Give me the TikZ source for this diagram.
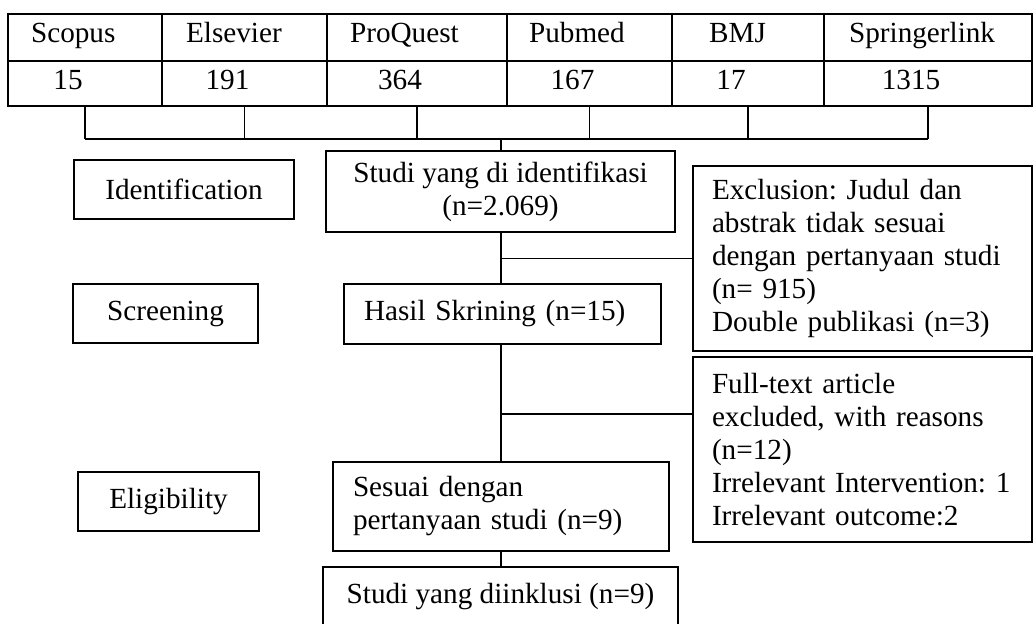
\documentclass[tikz,border=0pt]{standalone}
\usepackage{fontspec}
\setmainfont{Liberation Serif}
\usetikzlibrary{positioning}
\tikzset{cell/.style =
   {draw,
    line width=0.8pt,
    anchor=north west,
    outer sep=0pt,
    inner sep=0pt}}
\tikzset{stage/.style =
   {draw,
    line width=0.6pt,
    text centered,
    minimum height=29.5pt}}
\tikzset{flowbox/.style =
   {draw,
    line width=0.6pt,
    align=center}}
\tikzset{notebox/.style =
   {draw,
    line width=0.6pt,
    align=left,
    inner xsep=10pt}}
\tikzset{link/.style = {draw, line width=0.6pt}}

\begin{document}
\begin{tikzpicture}[x=0.5pt, y=-0.5pt,
    every node/.style={font=\frenchspacing\fontsize{14.6}{16.5}\selectfont}]

    \useasboundingbox (0,0) rectangle (1033,624);

    % database table
    \foreach \i/\xa/\w/\pad/\db/\num in
        {1/8/154/8/Scopus/15,
         2/162/165/8.5/Elsevier/191,
         3/327/180/8/ProQuest/364,
         4/507/165/7.5/Pubmed/167,
         5/672/152/15/BMJ/17,
         6/824/208/9/Springerlink/1315}
    {
        \node [cell, minimum width=\w*0.5pt,
               minimum height=23.5pt] (h-\i) at (\xa,14) {};
        \node [cell, minimum width=\w*0.5pt,
               minimum height=22.5pt] (n-\i) at (\xa,61) {};
        \node [anchor=base west] (db-\i)
            at ([xshift=\pad*1pt, yshift=9pt]h-\i.south west) {\db};
        \node [anchor=base] (num-\i)
            at ([xshift=-8.5pt, yshift=8pt]n-\i.south) {\num};
    }

    % stages
    \node [stage, minimum width=110pt] (ident) at (184,189.5) {Identification};
    \node [stage, minimum width=92.5pt] (screen) at (165.5,313.5) {Screening};
    \node [stage, minimum width=90.5pt] (elig) at (168.5,501.5) {Eligibility};

    % main flow
    \node [flowbox,
           minimum width=174.5pt,
           minimum height=40.5pt] (found) at (500.5,191.5)
          {Studi yang di identifikasi\\(n=2.069)};

    \node [notebox,
           text width=138.5pt,
           minimum height=30pt] (screened) at (502.5,314)
          {Hasil Skrining (n=15)};

    \node [notebox,
           text width=148pt,
           minimum height=44.5pt] (eligible) at (501,506.5)
          {Sesuai dengan\\pertanyaan studi (n=9)};

    \node [flowbox,
           minimum width=177.5pt,
           minimum height=30pt] (included) at (500.5,597)
          {Studi yang diinklusi (n=9)};

    % exclusions
    \node [notebox,
           inner xsep=9.5pt,
           text width=150.5pt,
           minimum height=92.5pt] (excl-title) at (862.5,258.5)
          {Exclusion: Judul dan\\abstrak tidak sesuai\\dengan pertanyaan studi\\(n= 915)\\Double publikasi (n=3)};

    \node [notebox,
           inner xsep=9.5pt,
           text width=150.5pt,
           minimum height=92.5pt] (excl-full) at (862.5,449.5)
          {Full-text article\\excluded, with reasons\\(n=12)\\Irrelevant Intervention: 1\\Irrelevant outcome:2};

    % connectors
    \coordinate (merge) at (501,139);
    \coordinate (split) at (501,414);

    \foreach \i in {1,...,6}
        \draw [link] (n-\i.south) -- (n-\i.south |- merge);
    \draw [link] (n-1.south |- merge) -- (n-6.south |- merge);
    \draw [link] (merge) -- (merge |- found.north);
    \draw [link] (merge |- found.south) -- (merge |- screened.north);
    \draw [link] (excl-title.west) -- (excl-title.west -| merge);
    \draw [link] (merge |- screened.south) -- (merge |- eligible.north);
    \draw [link] (split) -- (split -| excl-full.west);
    \draw [link] (merge |- eligible.south) -- (merge |- included.north);

\end{tikzpicture}
\end{document}
